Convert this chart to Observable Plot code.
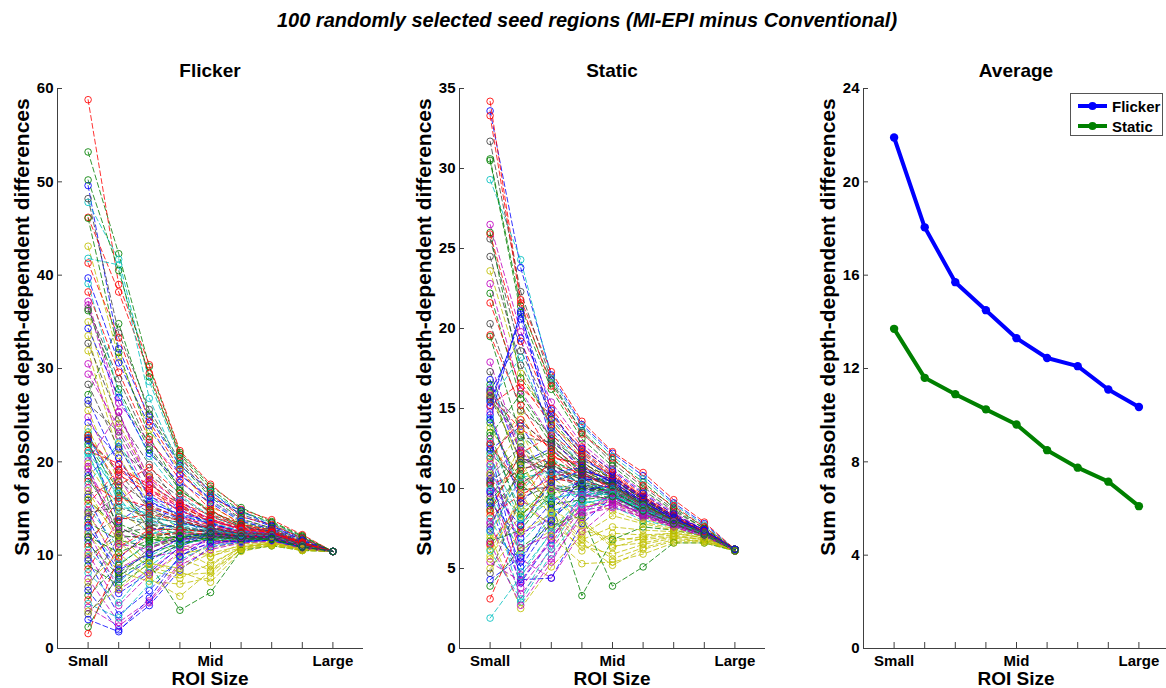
<!DOCTYPE html>
<html><head><meta charset="utf-8">
<script src="https://cdn.jsdelivr.net/npm/d3@7"></script>
<script src="https://cdn.jsdelivr.net/npm/@observablehq/plot@0.6"></script>
<style>
body{margin:0;background:#fff;overflow:hidden;}
#fig{position:relative;width:1166px;height:688px;overflow:hidden;background:#fff;font-family:"Liberation Sans",Arial,Helvetica,sans-serif;font-weight:bold;color:#000;}
#fig svg{position:absolute;top:0;background:transparent;max-width:none;}
.t{position:absolute;white-space:nowrap;line-height:1;}
.c{transform:translateX(-50%);}
.yl{transform:translate(-50%,-50%) rotate(-90deg);font-size:21px;}
.legend{position:absolute;left:1070px;top:93px;width:93px;height:43px;border:1px solid #555;background:#fff;box-sizing:border-box;}
.legend .row{position:absolute;left:6px;height:16px;display:flex;align-items:center;font-size:15px;}
</style></head>
<body>
<div id="fig"></div>
<script>
// ---------- data ----------
const roiPositions = [1, 2, 3, 4, 5, 6, 7, 8, 9];
const roiTickLabels = ["Small", "", "", "", "Mid", "", "", "", "Large"];
const panelTitles = ["Flicker", "Static", "Average"];
const seriesNames = ["Flicker", "Static"];

// Average over the 100 seed regions
const flickerMean = [21.9, 18.05, 15.7, 14.5, 13.3, 12.45, 12.1, 11.1, 10.35];
const staticMean = [13.7, 11.6, 10.9, 10.25, 9.6, 8.5, 7.75, 7.15, 6.1];

// Flicker: one row per seed region, values at the 9 ROI sizes
const flickerSeries = [
[49.6,32.1,24.8,19.6,16.9,14.2,13.1,11.8,10.4],
[53.2,42.3,30.2,21.0,17.4,15.1,13.6,12.1,10.4],
[58.8,39.0,30.4,21.2,17.6,14.9,13.8,12.2,10.4],
[47.8,41.7,28.6,20.4,16.8,14.6,13.4,11.9,10.4],
[37.2,26.3,22.1,18.7,15.9,13.8,12.9,11.6,10.4],
[43.1,31.2,23.4,19.1,15.2,13.5,12.8,11.5,10.4],
[48.2,33.8,25.6,20.1,16.4,14.4,13.2,11.9,10.4],
[22.6,17.3,12.8,15.9,13.6,12.1,12.4,11.2,10.4],
[27.2,34.8,25.1,19.8,16.2,13.9,12.9,11.7,10.4],
[46.2,38.2,29.5,20.6,16.6,14.1,13.3,11.8,10.4],
[41.8,41.1,26.8,19.4,15.8,13.7,12.7,11.4,10.4],
[36.8,25.4,17.2,14.6,12.6,12.4,12.0,11.0,10.4],
[35.0,24.1,18.3,13.2,11.1,11.8,11.5,10.9,10.4],
[36.4,28.9,21.6,17.3,14.4,13.2,12.6,11.3,10.4],
[39.7,30.6,23.9,18.6,16.1,14.8,13.1,11.6,10.4],
[50.2,40.5,29.1,20.8,17.1,14.7,13.5,12.0,10.4],
[41.3,33.3,24.3,19.2,15.4,13.3,12.5,11.4,10.4],
[39.1,27.4,20.6,16.4,14.2,12.9,12.2,11.2,10.4],
[30.5,22.8,16.4,14.1,12.9,12.6,12.1,11.1,10.4],
[33.5,21.9,15.3,12.7,11.6,11.4,11.8,10.8,10.4],
[32.7,24.6,19.7,15.2,13.1,12.2,12.3,11.0,10.4],
[34.3,26.9,20.9,17.8,15.6,13.6,12.8,11.5,10.4],
[46.1,31.7,22.7,16.9,14.8,13.1,12.4,11.3,10.4],
[38.2,29.6,22.4,18.1,14.9,12.8,12.0,11.1,10.4],
[23.2,15.6,14.2,12.4,12.8,12.3,12.1,11.0,10.4],
[24.8,18.4,13.1,11.6,11.9,11.7,11.9,10.9,10.4],
[31.9,20.7,14.8,10.9,9.8,11.2,11.4,10.7,10.4],
[26.2,23.2,17.6,15.5,13.4,12.5,12.4,11.2,10.4],
[26.6,19.7,15.6,14.4,13.7,12.9,12.6,11.3,10.4],
[36.2,27.8,21.3,17.0,14.6,13.4,12.7,11.4,10.4],
[22.5,19.1,16.9,15.1,13.9,12.7,12.2,11.1,10.4],
[21.6,16.2,12.2,13.3,12.4,11.9,12.0,11.0,10.4],
[29.4,23.7,17.9,14.8,13.2,12.4,12.1,11.1,10.4],
[25.5,17.8,12.5,9.6,8.4,10.9,11.3,10.6,10.4],
[28.3,21.4,18.6,16.2,14.1,13.1,12.5,11.2,10.4],
[24.2,20.4,15.1,13.9,12.2,11.8,12.0,10.9,10.4],
[22.9,12.1,11.8,12.6,12.1,11.6,11.8,10.8,10.4],
[22.8,17.5,19.4,16.6,14.7,13.3,12.7,11.4,10.4],
[20.9,14.3,13.6,12.9,12.5,12.0,11.9,10.9,10.4],
[19.3,13.1,11.2,11.8,11.4,11.5,11.7,10.8,10.4],
[23.6,16.8,12.9,11.3,9.9,10.8,11.2,10.6,10.4],
[22.4,18.9,14.9,13.6,12.7,12.2,12.0,11.0,10.4],
[22.3,13.6,15.8,14.2,13.4,12.6,12.3,11.2,10.4],
[21.9,16.9,13.4,12.1,11.7,11.5,11.8,10.9,10.4],
[21.2,19.8,17.1,15.3,13.6,12.8,12.4,11.3,10.4],
[20.5,15.2,14.5,13.1,12.3,11.9,11.9,10.9,10.4],
[20.1,25.3,18.1,15.7,13.8,12.7,12.3,11.2,10.4],
[19.8,14.7,12.4,10.6,8.9,10.9,11.3,10.7,10.4],
[18.9,12.3,13.8,12.8,12.6,12.1,12.0,11.0,10.4],
[18.5,21.6,16.3,14.9,13.3,12.5,12.2,11.2,10.4],
[18.2,13.4,11.9,11.9,11.8,11.6,11.7,10.9,10.4],
[17.9,15.8,18.4,15.6,14.3,13.0,12.5,11.3,10.4],
[17.6,22.1,16.1,14.3,13.5,12.6,12.2,11.1,10.4],
[17.2,12.6,9.8,10.4,11.2,11.4,11.6,10.8,10.4],
[16.9,11.4,8.7,7.9,8.1,10.6,11.1,10.6,10.4],
[16.5,17.9,15.4,14.0,13.0,12.3,12.1,11.1,10.4],
[16.2,9.6,12.6,13.4,12.9,12.2,12.0,11.0,10.4],
[15.9,12.9,11.7,11.4,11.6,11.5,11.7,10.9,10.4],
[15.5,19.2,17.6,15.4,13.9,12.9,12.4,11.2,10.4],
[15.1,10.8,12.3,12.5,12.2,11.8,11.9,10.9,10.4],
[14.8,8.6,10.2,11.7,12.1,11.7,11.8,10.9,10.4],
[14.4,9.3,7.8,10.1,10.8,11.3,11.5,10.7,10.4],
[14.1,16.4,14.6,13.8,12.8,12.2,12.0,11.0,10.4],
[13.9,7.4,9.4,11.2,12.4,12.0,11.9,10.9,10.4],
[13.5,11.6,10.9,11.9,12.2,11.9,11.8,10.9,10.4],
[13.2,18.6,16.7,14.7,13.7,12.8,12.4,11.2,10.4],
[12.8,9.1,11.1,12.2,12.0,11.7,11.8,10.9,10.4],
[12.5,6.3,8.4,10.8,11.5,11.6,11.7,10.8,10.4],
[12.3,8.2,7.2,6.9,7.6,10.7,11.2,10.6,10.4],
[11.9,14.1,13.3,13.0,12.6,12.1,12.0,11.0,10.4],
[11.6,5.9,8.1,10.9,12.3,12.0,11.9,10.9,10.4],
[11.2,7.8,9.6,11.1,11.9,11.8,11.8,10.9,10.4],
[10.9,16.1,15.2,14.1,13.2,12.5,12.2,11.1,10.4],
[10.5,7.1,9.9,11.5,12.1,11.8,11.8,10.9,10.4],
[10.2,4.6,7.9,10.3,11.9,11.7,11.8,10.9,10.4],
[10.0,11.8,8.4,7.5,9.1,10.8,11.3,10.6,10.4],
[9.7,12.4,12.9,12.7,12.5,12.0,11.9,11.0,10.4],
[9.4,3.6,6.2,9.8,12.0,11.9,11.8,10.9,10.4],
[8.9,6.8,9.1,4.1,6.0,10.5,11.0,10.5,10.4],
[8.5,13.8,14.4,13.7,12.9,12.3,12.1,11.0,10.4],
[8.1,4.9,8.8,11.1,11.8,11.6,11.7,10.8,10.4],
[7.5,2.8,5.1,9.2,11.3,11.5,11.6,10.8,10.4],
[7.1,10.2,7.5,5.6,8.3,10.6,11.1,10.5,10.4],
[6.6,11.9,12.1,12.3,12.1,11.9,11.8,10.9,10.4],
[6.2,2.0,4.6,8.4,10.9,11.4,11.6,10.8,10.4],
[5.7,8.9,11.4,12.0,12.1,11.8,11.7,10.9,10.4],
[5.2,10.9,12.7,12.8,12.4,12.1,11.9,10.9,10.4],
[4.8,3.3,6.9,9.5,11.1,11.4,11.6,10.8,10.4],
[4.4,2.4,4.9,8.9,10.6,11.3,11.5,10.7,10.4],
[4.0,6.4,9.2,8.2,7.1,10.4,11.0,10.5,10.4],
[3.7,7.6,10.8,11.7,12.0,11.8,11.7,10.9,10.4],
[3.1,1.8,5.4,9.9,11.4,11.5,11.6,10.8,10.4],
[2.3,8.1,10.3,11.2,11.9,11.7,11.7,10.8,10.4],
[1.6,9.8,12.2,12.4,12.3,12.0,11.9,10.9,10.4],
[21.0,16.6,14.0,13.5,12.7,12.2,12.1,11.0,10.4],
[19.5,11.2,10.6,12.3,12.2,11.9,11.9,10.9,10.4],
[16.0,12.2,9.1,8.6,10.2,11.0,11.4,10.7,10.4],
[14.6,15.1,14.1,13.5,12.9,12.4,12.2,11.1,10.4],
[13.0,8.4,10.1,11.8,12.4,12.0,11.9,10.9,10.4],
[12.0,10.3,11.6,12.1,12.3,12.0,11.8,10.9,10.4]
];

// Static: one row per seed region, values at the 9 ROI sizes
const staticSeries = [
[33.6,23.8,17.1,14.0,12.2,10.8,9.1,7.8,6.2],
[30.6,21.4,16.6,13.6,11.8,10.4,8.8,7.6,6.2],
[34.2,21.8,17.3,14.2,12.3,11.0,9.3,7.9,6.2],
[29.3,24.3,16.9,13.9,12.0,10.6,9.0,7.7,6.2],
[26.5,19.8,15.4,12.8,11.2,9.8,8.5,7.4,6.2],
[23.6,17.2,14.1,11.9,10.6,9.3,8.2,7.3,6.2],
[31.7,22.3,16.8,13.5,11.6,10.1,8.7,7.5,6.2],
[12.4,13.9,11.2,10.3,9.7,8.4,7.7,7.1,6.1],
[30.5,21.0,16.2,13.1,11.4,9.9,8.6,7.5,6.2],
[33.3,21.6,16.4,13.4,11.9,10.2,8.9,7.6,6.2],
[15.5,18.2,13.6,11.5,10.1,8.9,7.9,7.2,6.1],
[22.8,16.1,13.2,11.1,9.9,8.7,7.8,7.2,6.2],
[9.3,6.1,7.4,8.9,9.2,8.1,7.6,7.0,6.1],
[25.6,18.6,14.7,12.3,10.8,9.4,8.3,7.3,6.2],
[16.8,11.6,12.5,10.8,9.5,8.6,7.8,7.1,6.1],
[26.0,16.9,14.3,12.1,10.4,9.2,8.1,7.3,6.2],
[25.9,19.2,15.0,12.6,11.0,9.6,8.4,7.4,6.2],
[14.4,9.8,11.9,10.6,9.9,8.8,7.9,7.2,6.1],
[17.9,12.3,9.6,8.4,8.8,8.2,7.7,7.1,6.1],
[11.7,14.8,10.7,9.4,8.6,7.9,7.5,7.0,6.1],
[24.5,17.7,13.9,11.7,10.3,9.1,8.0,7.2,6.2],
[8.9,4.1,6.8,9.6,10.5,9.0,8.1,7.3,6.2],
[22.2,15.6,12.8,10.9,9.6,8.5,7.8,7.1,6.2],
[21.6,16.3,14.6,12.4,10.9,9.5,8.3,7.4,6.2],
[16.3,12.9,10.4,9.2,8.9,8.0,7.6,7.0,6.1],
[10.5,7.2,8.1,9.8,10.2,9.1,8.2,7.3,6.2],
[13.8,10.6,8.3,6.1,7.2,7.1,7.2,6.9,6.1],
[20.3,14.9,13.4,11.4,10.0,8.9,7.9,7.2,6.2],
[15.1,20.9,14.9,12.0,10.6,9.3,8.2,7.3,6.2],
[19.5,13.3,11.8,10.1,9.3,8.3,7.7,7.1,6.1],
[19.6,15.2,12.2,10.7,9.4,8.6,7.8,7.2,6.2],
[12.9,8.7,9.9,10.4,9.8,8.8,8.0,7.2,6.2],
[7.9,10.4,11.3,10.0,9.1,8.4,7.7,7.1,6.1],
[6.4,9.1,8.8,7.4,6.9,6.8,7.0,6.8,6.1],
[17.3,12.1,11.6,10.2,9.6,8.5,7.8,7.1,6.2],
[16.1,19.4,13.0,11.3,10.4,9.2,8.1,7.3,6.2],
[16.5,10.9,9.2,3.3,6.8,7.6,7.4,7.0,6.1],
[15.8,13.7,12.6,11.2,10.1,9.0,8.0,7.2,6.2],
[11.2,6.6,8.6,9.1,9.4,8.5,7.7,7.1,6.1],
[14.8,9.4,7.6,8.6,9.0,8.3,7.6,7.0,6.1],
[8.5,12.8,9.4,7.9,6.3,6.9,7.1,6.8,6.1],
[15.7,11.8,10.9,10.2,9.6,8.6,7.8,7.1,6.2],
[14.3,21.1,13.8,11.8,10.8,9.4,8.3,7.4,6.2],
[13.5,8.2,10.5,10.9,10.1,8.9,8.0,7.2,6.2],
[15.2,16.6,14.0,12.2,10.7,9.4,8.2,7.3,6.2],
[10.0,2.9,5.9,8.4,9.6,8.7,7.9,7.1,6.1],
[13.1,5.6,4.4,7.3,8.9,8.2,7.6,7.0,6.1],
[7.1,2.5,5.1,7.1,8.3,7.8,7.4,7.0,6.1],
[12.7,9.9,10.1,9.7,9.3,8.4,7.7,7.1,6.2],
[12.5,4.3,4.4,7.8,9.5,8.6,7.8,7.1,6.1],
[12.2,10.3,11.5,10.5,9.7,8.7,7.9,7.2,6.2],
[11.9,14.3,12.4,10.9,10.0,8.9,8.0,7.2,6.2],
[11.4,7.8,9.3,9.9,9.6,8.6,7.8,7.1,6.1],
[11.0,3.8,6.2,8.8,9.2,8.4,7.7,7.1,6.1],
[6.9,11.4,8.9,6.9,5.6,6.3,6.8,6.7,6.1],
[10.8,12.6,11.1,10.3,9.8,8.8,7.9,7.2,6.2],
[10.6,5.1,7.9,10.8,10.3,9.1,8.1,7.3,6.2],
[10.3,8.4,9.7,10.0,9.9,8.8,7.9,7.2,6.2],
[10.2,11.1,12.0,11.4,10.4,9.2,8.1,7.3,6.2],
[9.9,5.9,8.2,9.5,9.7,8.8,7.9,7.2,6.2],
[9.7,4.6,6.6,9.3,9.9,9.0,8.0,7.2,6.2],
[6.2,8.9,7.8,6.4,5.9,6.5,6.9,6.7,6.1],
[9.5,12.0,10.8,10.1,9.5,8.6,7.8,7.1,6.2],
[9.1,6.9,9.1,10.6,10.5,9.3,8.2,7.3,6.2],
[8.7,10.8,11.7,11.0,10.2,9.1,8.1,7.3,6.2],
[8.3,9.6,10.6,10.4,10.0,8.9,8.0,7.2,6.2],
[8.1,4.8,7.2,9.0,9.5,8.7,7.9,7.1,6.1],
[7.8,3.4,5.6,8.2,9.1,8.5,7.8,7.1,6.1],
[5.8,8.3,10.3,8.1,6.4,6.6,7.0,6.8,6.1],
[7.6,11.3,11.4,10.7,10.2,9.0,8.0,7.2,6.2],
[7.4,5.4,8.7,10.5,10.7,9.5,8.3,7.4,6.2],
[6.7,7.4,9.8,10.2,9.8,8.8,7.9,7.2,6.2],
[6.5,9.2,11.9,11.6,10.6,9.3,8.2,7.3,6.2],
[6.1,3.1,6.4,9.2,10.0,9.0,8.0,7.2,6.2],
[5.4,4.2,6.9,9.4,10.1,9.1,8.1,7.2,6.2],
[5.0,7.3,8.4,6.6,5.2,6.2,6.7,6.7,6.1],
[4.7,9.4,10.2,10.0,9.7,8.8,7.9,7.2,6.2],
[4.3,5.7,8.0,9.9,10.2,9.2,8.1,7.3,6.2],
[3.9,6.3,7.7,8.3,3.9,5.1,6.6,6.6,6.1],
[3.1,7.6,10.7,11.1,10.6,9.4,8.2,7.3,6.2],
[1.9,4.5,7.3,9.5,10.0,9.1,8.0,7.2,6.2],
[16.2,12.4,10.0,9.6,9.3,8.4,7.7,7.1,6.1],
[15.9,11.7,8.5,6.8,7.6,7.4,7.3,6.9,6.1],
[15.6,13.2,12.9,11.5,10.3,9.1,8.0,7.2,6.2],
[14.6,9.1,11.0,11.3,10.4,9.2,8.1,7.3,6.2],
[13.3,15.9,13.1,11.6,10.6,9.3,8.2,7.3,6.2],
[12.8,10.1,11.6,10.9,10.1,9.0,8.0,7.2,6.2],
[12.0,8.1,9.4,9.7,9.6,8.7,7.9,7.1,6.1],
[11.5,6.3,7.1,8.7,9.4,8.6,7.8,7.1,6.1],
[10.9,13.6,9.9,7.7,6.7,7.0,7.2,6.9,6.1],
[10.4,11.9,11.2,10.6,9.9,8.9,7.9,7.2,6.2],
[9.8,7.7,10.4,11.1,10.6,9.4,8.2,7.3,6.2],
[9.2,11.5,12.3,11.2,10.2,9.0,8.0,7.2,6.2],
[8.6,12.2,13.3,12.0,10.8,9.5,8.3,7.3,6.2],
[7.3,10.7,11.0,10.4,9.9,8.9,7.9,7.2,6.2],
[6.6,2.7,5.4,8.5,9.7,8.8,7.9,7.1,6.1],
[5.6,9.7,7.0,5.3,5.4,5.9,6.6,6.6,6.1],
[16.0,14.1,12.7,11.0,10.1,9.0,8.0,7.2,6.2],
[15.4,20.6,14.4,12.5,11.1,9.7,8.4,7.4,6.2],
[14.1,10.2,9.0,9.3,9.5,8.6,7.8,7.1,6.1]
];

const flickerYTicks = [0, 10, 20, 30, 40, 50, 60];
const staticYTicks = [0, 5, 10, 15, 20, 25, 30, 35];
const averageYTicks = [0, 4, 8, 12, 16, 20, 24];

// ---------- styles ----------
const lineColors = ["#0000ff", "#008000", "#ff0000", "#00bfbf", "#bf00bf", "#bfbf00", "#404040"];
const avgColors = ["#0000ff", "#008000"];
const axisColor = "#404040";
const FONT = '"Liberation Sans", Arial, Helvetica, sans-serif';

const PW = 306, PH = 560, ML = 57, MT = 88, MB = 40;

function axes(yTicks) {
  return [
    Plot.ruleY([0], {stroke: axisColor, strokeWidth: 1}),
    Plot.ruleX([0], {stroke: axisColor, strokeWidth: 1}),
    Plot.axisY(yTicks, {tickSize: -5, tickFormat: () => "", stroke: axisColor, label: null}),
    Plot.axisY(yTicks, {tickSize: 0, tickPadding: 4, fontSize: 15, label: null}),
    Plot.axisX(roiPositions, {tickSize: -6, tickFormat: () => "", stroke: axisColor, label: null}),
    Plot.axisX(roiPositions.filter((p, i) => roiTickLabels[i]), {tickSize: 0, tickPadding: 7, fontSize: 15,
      tickFormat: p => roiTickLabels[roiPositions.indexOf(p)], label: null})
  ];
}

function spaghetti(rows, yMax, yTicks) {
  const data = rows.flatMap((row, s) => row.map((v, i) => ({s, x: roiPositions[i], y: v, c: lineColors[s % lineColors.length]})));
  return Plot.plot({
    width: ML + PW + 37, height: MT + PH + MB,
    marginLeft: ML, marginRight: 37, marginTop: MT, marginBottom: MB,
    x: {domain: [0, 10]}, y: {domain: [0, yMax]},
    color: {type: "identity"},
    style: {fontFamily: FONT, fontWeight: "bold", fontSize: "15px", color: "#000", background: "transparent", overflow: "visible"},
    marks: [
      Plot.line(data, {x: "x", y: "y", z: "s", stroke: "c", strokeWidth: 1, strokeDasharray: "5,3", strokeOpacity: 0.8}),
      Plot.dot(data, {x: "x", y: "y", stroke: "c", r: 3.3, strokeWidth: 1, fill: "none", strokeOpacity: 0.85}),
      ...axes(yTicks)
    ]
  });
}

function averagePanel() {
  const data = roiPositions.flatMap((x, i) => [
    {k: seriesNames[0], x, y: flickerMean[i]},
    {k: seriesNames[1], x, y: staticMean[i]}
  ]);
  return Plot.plot({
    width: ML + PW, height: MT + PH + MB,
    marginLeft: ML, marginRight: 0, marginTop: MT, marginBottom: MB,
    x: {domain: [0, 10]}, y: {domain: [0, 24]},
    color: {domain: seriesNames, range: avgColors},
    style: {fontFamily: FONT, fontWeight: "bold", fontSize: "15px", color: "#000", background: "transparent", overflow: "visible"},
    marks: [
      Plot.line(data, {x: "x", y: "y", z: "k", stroke: "k", strokeWidth: 4}),
      Plot.dot(data, {x: "x", y: "y", fill: "k", r: 4.2}),
      ...axes(averageYTicks)
    ]
  });
}

const fig = document.getElementById("fig");
const lefts = [0, 402, 806];
const panels = [spaghetti(flickerSeries, 60, flickerYTicks), spaghetti(staticSeries, 35, staticYTicks), averagePanel()];
panels.forEach((p, i) => { p.style.left = lefts[i] + "px"; fig.appendChild(p); });

function addText(txt, cls, css) {
  const d = document.createElement("div");
  d.className = "t " + cls;
  d.textContent = txt;
  Object.assign(d.style, css);
  fig.appendChild(d);
  return d;
}
addText("100 randomly selected seed regions (MI-EPI minus Conventional)", "c", {left: "587px", top: "10px", fontSize: "20px", fontStyle: "italic"});
lefts.forEach((L, i) => {
  const cx = L + ML + PW / 2;
  addText(panelTitles[i], "c", {left: cx + "px", top: "61px", fontSize: "19px"});
  addText("ROI Size", "c", {left: cx + "px", top: "669px", fontSize: "19px"});
  addText("Sum of absolute depth-dependent differences", "yl", {left: (L + ML - 36) + "px", top: "327px"});
});

// legend
const lg = document.createElement("div");
lg.className = "legend";
seriesNames.forEach((n, i) => {
  const row = document.createElement("div");
  row.className = "row";
  row.style.top = (4 + i * 20) + "px";
  row.innerHTML = `<svg width="32" height="10" style="position:static;margin-right:3px"><line x1="1" y1="5" x2="30" y2="5" stroke="${avgColors[i]}" stroke-width="4"/><circle cx="15.5" cy="5" r="4" fill="${avgColors[i]}"/></svg><span>${n}</span>`;
  lg.appendChild(row);
});
fig.appendChild(lg);
</script>
</body></html>
